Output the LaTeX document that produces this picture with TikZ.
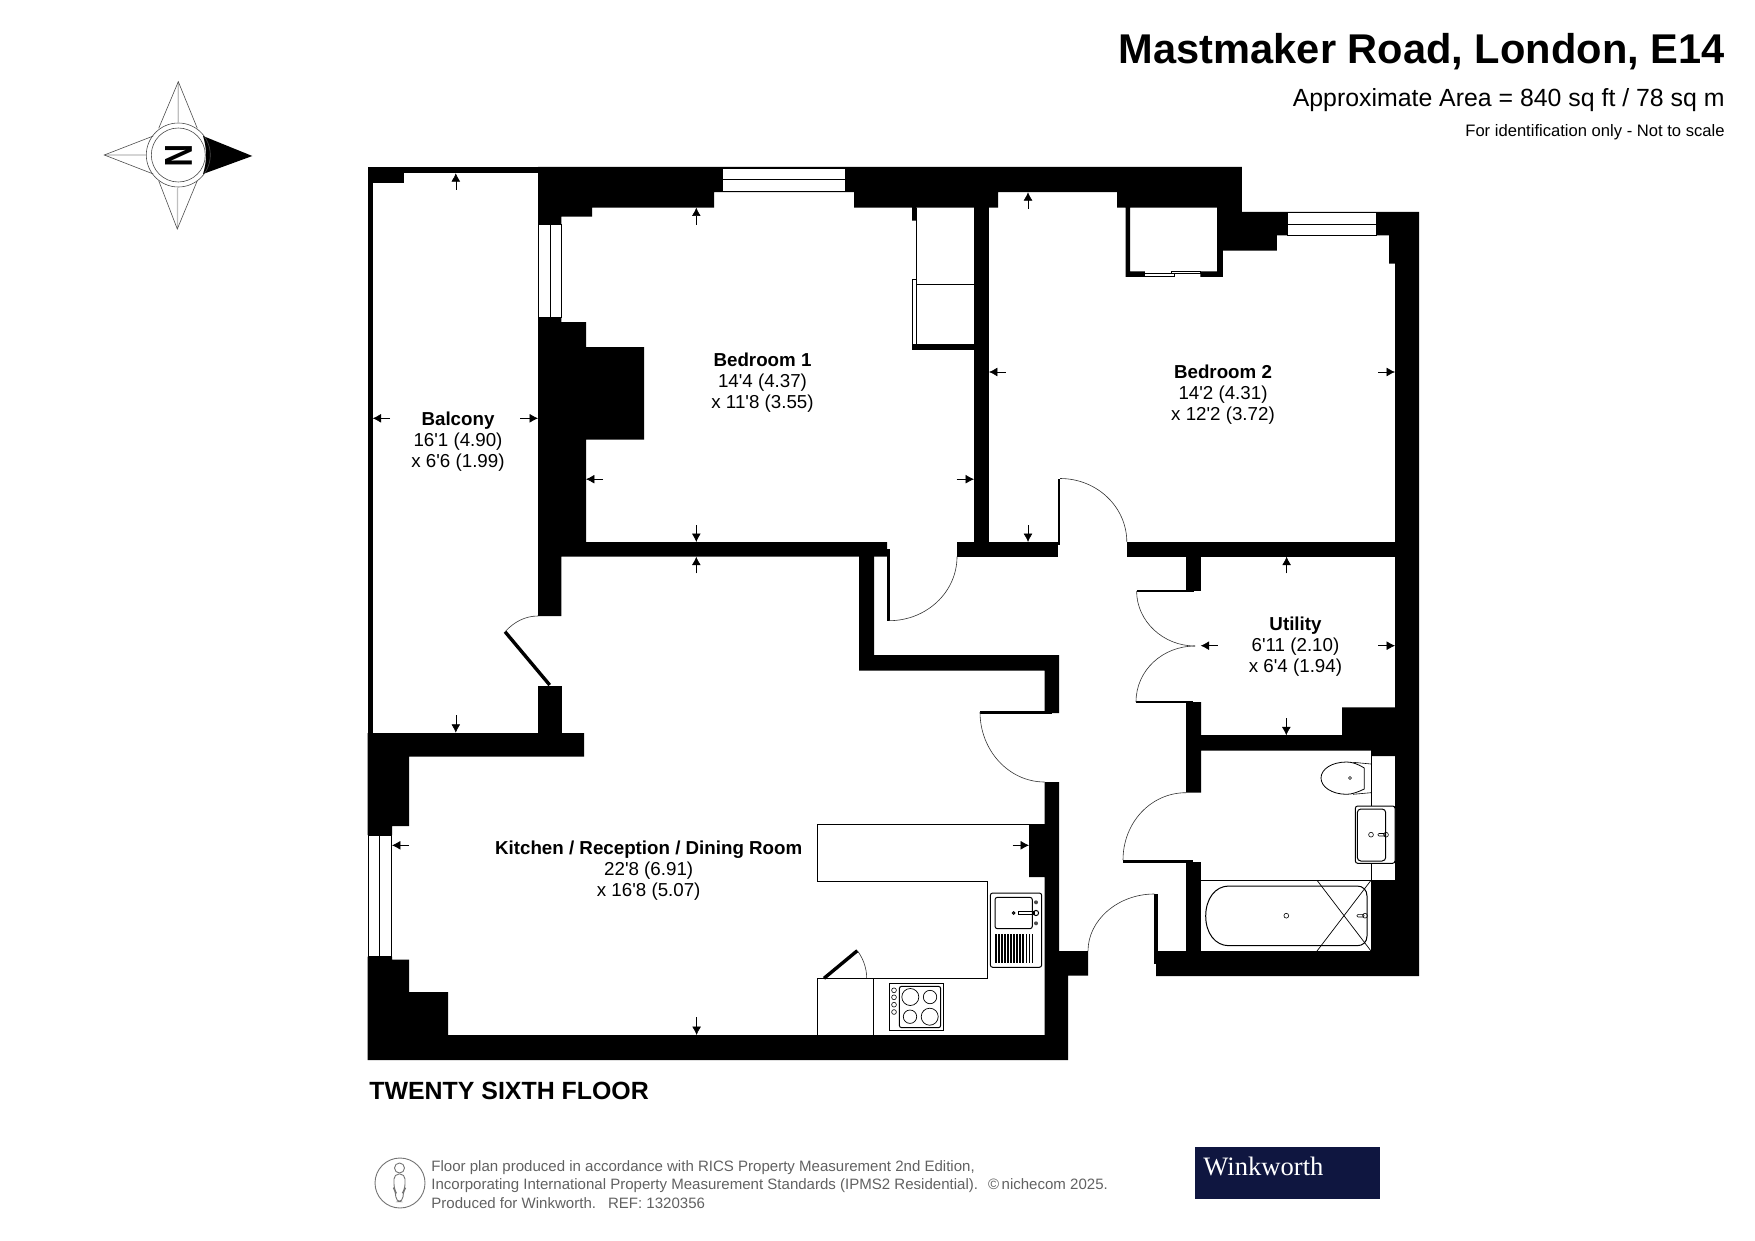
\documentclass[tikz,border=0pt]{standalone}
\usepackage{fontspec}
\setmainfont{Liberation Sans}
\newfontfamily\logofont{Liberation Serif}
\usetikzlibrary{arrows.meta}
\newcommand{\ft}{\textquotesingle}
\definecolor{logoblue}{HTML}{0F1640}
\tikzset{
  wall/.style={fill=black, draw=none},
  glass/.style={fill=white, draw=black, line width=0.35pt},
  fitting/.style={draw=black, line width=0.5pt},
  swing/.style={draw=black!80, line width=0.3pt},
  dimarrow/.style={draw=black, line width=0.3pt, -{Latex[length=4.2pt,width=4.4pt]}},
  roomlabel/.style={align=center, inner sep=0pt, font=\fontsize{9.37}{10.4}\selectfont},
  smalltext/.style={align=left, inner sep=0pt, text=black!62, font=\fontsize{7.52}{9.1}\selectfont}
}
\begin{document}
\begin{tikzpicture}[x=0.5pt,y=-0.5pt]
\useasboundingbox (0,0) rectangle (1755,1241);

% headings
\node (title) [anchor=east, inner sep=0pt, font=\fontsize{20.8}{24}\selectfont\bfseries] at (1725,52) {Mastmaker Road, London, E14};
\node (area) [anchor=east, inner sep=0pt, font=\fontsize{12.43}{14}\selectfont] at (1725,100) {Approximate Area = 840 sq ft / 78 sq m};
\node (scalenote) [anchor=east, inner sep=0pt, font=\fontsize{8.3}{10}\selectfont] at (1725,132) {For identification only - Not to scale};

% compass
\draw[black!25, line width=0.6pt] (178.3,81.7) -- (178.3,122) (104.3,155) -- (146,155) (177.6,188) -- (177.4,229);
\draw[black!70, line width=0.3pt] (158.7,128.3) -- (178.3,81.7) -- (197.3,128.3);
\draw[black!70, line width=0.3pt] (153.3,136) -- (104.3,155) -- (153.3,174);
\draw[black!70, line width=0.3pt] (158.7,180.7) -- (177.3,229) -- (197.3,180.7);
\fill[black] (203,136) -- (252.3,156) -- (203,174) .. controls (207,162) and (207,148) .. (203,136) -- cycle;
\draw[black!70, line width=0.3pt] (178.3,155) circle (32);
\draw[black!70, line width=0.3pt] (178.3,155) circle (27);
\node (north) [rotate=-90, xscale=0.8, inner sep=0pt, font=\fontsize{19.5}{20}\selectfont\bfseries] at (178.5,156) {N};

% walls
\fill[wall] (538,166.9) -- (1241.9,166.9) -- (1241.9,212) -- (1419,212) -- (1419,976) -- (1156,976) -- (1156,951) -- (1371,951) -- (1371,880) -- (1395,880) -- (1395,263.7) -- (1389,263.7) -- (1389,235.3) -- (1276.8,235.3) -- (1276.8,250.7) -- (1222.8,250.7) -- (1222.8,276.8) -- (1200.4,276.8) -- (1200.4,271.3) -- (1217,271.3) -- (1217,207.6) -- (1130,207.6) -- (1130,271.3) -- (1144.8,271.3) -- (1144.8,276.8) -- (1125.7,276.8) -- (1125.7,207.6) -- (1117,207.6) -- (1117,192.2) -- (998,192.2) -- (998,207.6) -- (916.4,207.6) -- (916.4,220.6) -- (912,220.6) -- (912,207.6) -- (854,207.6) -- (854,192.2) -- (714,192.2) -- (714,207.6) -- (592,207.6) -- (592,216.7) -- (561.4,216.7) -- (561.4,224.6) -- (538,224.6) -- cycle;
\fill[wall] (538,317) -- (561.4,317) -- (561.4,322) -- (586,322) -- (586,347) -- (644,347) -- (644,439.7) -- (586,439.7) -- (586,542) -- (887,542) -- (887,556.7) -- (561.4,556.7) -- (561.4,616) -- (538,616) -- cycle;
\fill[wall] (859,556) -- (874,556) -- (874,655) -- (1059,655) -- (1059,713) -- (1044.6,713) -- (1044.6,670.7) -- (859,670.7) -- cycle;
\fill[wall] (1044.6,782) -- (1059,782) -- (1059,951) -- (1088,951) -- (1088,975.7) -- (1068,975.7) -- (1068,1060) -- (367.7,1060) -- (367.7,956.7) -- (392,956.7) -- (392,959.7) -- (409,959.7) -- (409,992) -- (448,992) -- (448,1035) -- (1044.6,1035) -- (1044.6,877) -- (1029,877) -- (1029,824) -- (1044.6,824) -- cycle;
\fill[wall] (367.7,733) -- (584,733) -- (584,756.7) -- (409,756.7) -- (409,826) -- (392,826) -- (392,835) -- (367.7,835) -- cycle;
\fill[wall] (367.7,166.9) rectangle (372.7,733);
\fill[wall] (367.7,166.9) rectangle (538,172.7);
\fill[wall] (367.7,166.9) rectangle (404,182.7);
\fill[wall] (538,686) rectangle (562,733);
\fill[wall] (974,207) rectangle (989,556.7);
\fill[wall] (957,542) rectangle (1058,556.7);
\fill[wall] (1126.8,542) rectangle (1395,556.7);
\fill[wall] (912,344) rectangle (974,349.5);
\fill[wall] (1186,556) rectangle (1201,591);
\fill[wall] (1186,702) -- (1201,702) -- (1201,735) -- (1342,735) -- (1342,707.3) -- (1395,707.3) -- (1395,756) -- (1371,756) -- (1371,750.7) -- (1201,750.7) -- (1201,792.7) -- (1186,792.7) -- cycle;
\fill[wall] (1186,861.7) rectangle (1201,951);

% door leaves
\fill[wall] (887,549) rectangle (889.5,620.7);
\fill[wall] (1057.5,478.5) rectangle (1060,545);
\fill[wall] (980,711) rectangle (1052,713.7);
\fill[wall] (1136.6,589.5) rectangle (1194,592);
\fill[wall] (1136,700.5) rectangle (1193,703.3);
\fill[wall] (1123,859.5) rectangle (1193,862.5);
\fill[wall] (1154.3,894) rectangle (1157.7,964);
\draw[black, line width=1.7pt] (505,631.7) -- (549.7,685);
\draw[black, line width=1.7pt] (824,978.3) -- (857.3,950.7);

% door swings
\draw[swing] (505,631.7) .. controls (514,622) and (525,616) .. (538,616);
\draw[swing] (889,620.7) .. controls (926.6,620.7) and (957,592) .. (957,556.7);
\draw[swing] (1060,478.5) .. controls (1097,478.5) and (1126.8,507) .. (1126.8,542);
\draw[swing] (1136.6,591) .. controls (1136.6,621) and (1163,646) .. (1195,646);
\draw[swing] (1136,702) .. controls (1136,670) and (1163,646) .. (1195,646);
\draw[swing] (1123,860) .. controls (1123,822.4) and (1151,792.7) .. (1186,792.7);
\draw[swing] (1154.3,894) .. controls (1118,894) and (1088,920) .. (1088,951);
\draw[swing] (980,712) .. controls (980,750.6) and (1009,782) .. (1044.6,782);
\draw[swing] (857.3,950.7) .. controls (863,958) and (866.7,968) .. (866.7,978.3);

% windows
\draw[glass] (722.7,168) rectangle (845,191.4);
\draw[black, line width=0.35pt] (722.7,179.5) -- (845,179.5);
\draw[glass] (1287,212.7) rectangle (1376,235.3);
\draw[black, line width=0.35pt] (1287,224.2) -- (1376,224.2);
\draw[glass] (538,224.6) rectangle (561.4,317);
\draw[black, line width=0.35pt] (550,224.6) -- (550,317);
\draw[glass] (367.9,835) rectangle (391.5,956.7);
\draw[black, line width=0.35pt] (379,835) -- (379,956.7);

% wardrobes
\draw[fitting, line width=0.35pt] (916,207.6) -- (916,284) -- (974,284);
\draw[fitting, line width=0.35pt] (912,279) rectangle (916,344);
\draw[fitting, line width=0.35pt] (1144.8,273.6) rectangle (1174,276.4);
\draw[fitting, line width=0.35pt] (1171,271.3) rectangle (1200.4,273.6);

% kitchen
\draw[fitting] (1029,824.3) -- (817.3,824.3) -- (817.3,881.3) -- (987.3,881.3) -- (987.3,978.3) -- (817.3,978.3) -- (817.3,1035);
\draw[fitting] (873.3,978.3) -- (873.3,1035);
\draw[fitting, rounded corners=1.2pt] (990.3,893) rectangle (1041.7,967.3);
\draw[fitting, rounded corners=1.2pt] (995,897.3) rectangle (1032.3,928.7);
\draw[fitting] (1018.3,911.8) rectangle (1034,914.2);
\draw[fitting] (1036,913) circle (2.6);
\draw[fitting] (1013.7,913) circle (1.3);
\fill[black!70] (1036,902.3) circle (2);
\fill[black!70] (1036,923.3) circle (2);
\foreach \slat in {996,999,...,1023}
  \draw[black, line width=0.6pt] (\slat,934.3) -- (\slat,962.7);
\foreach \slat in {1026,1029,1032}
  \draw[black, line width=0.3pt] (\slat,934.3) -- (\slat,962.7);
\draw[fitting] (889.3,983.3) rectangle (943.7,1030.3);
\draw[fitting, rounded corners=1.2pt] (899.3,986.3) rectangle (940.7,1027.7);
\draw[fitting, line width=0.35pt] (910.3,997) circle (8.5);
\draw[fitting, line width=0.35pt] (930,997) circle (6.7);
\draw[fitting, line width=0.35pt] (910,1016.7) circle (6.7);
\draw[fitting, line width=0.35pt] (929.7,1016.7) circle (8.5);
\foreach \knob in {990.3,997.3,1004.7,1012}
  \draw[fitting, line width=0.3pt] (894,\knob) circle (2.4);

% bathroom
\draw[fitting, line width=0.4pt] (1371,750.7) -- (1371,806);
\draw[fitting, line width=0.4pt] (1371,863.3) -- (1371,880.3);
\draw[fitting, line width=0.4pt] (1364.3,768) .. controls (1358,764) and (1352,762) .. (1346.7,762) .. controls (1332,762) and (1321,769) .. (1321,778) .. controls (1321,787) and (1332,794.3) .. (1346.7,794.3) .. controls (1352,794.3) and (1358,792) .. (1364.3,789) -- cycle;
\draw[fitting, line width=0.3pt] (1353,762.3) -- (1371,764) (1353,794.3) -- (1371,792.7);
\draw[fitting, line width=0.3pt] (1350,778) circle (1.5);
\draw[fitting, rounded corners=1.2pt, fill=white] (1355.3,806) rectangle (1395,863.3);
\draw[fitting, rounded corners=1.8pt] (1357.3,809) rectangle (1385.7,861);
\draw[fitting, line width=0.3pt] (1371,834.7) circle (2.4);
\draw[fitting, line width=0.3pt] (1386,834.7) circle (2.4);
\draw[fitting, line width=0.3pt, rounded corners=0.5pt] (1378,833.5) rectangle (1385,836);
\draw[fitting] (1201,880.3) -- (1371,880.3);
\draw[fitting] (1229,886) -- (1357,886) .. controls (1363,886) and (1367,890) .. (1367,896) -- (1367,936) .. controls (1367,942) and (1363,945.7) .. (1357,945.7) -- (1229,945.7) .. controls (1215,945.7) and (1205.7,933) .. (1205.7,916) .. controls (1205.7,899) and (1215,886) .. (1229,886) -- cycle;
\draw[fitting, line width=0.3pt] (1286.3,915.7) circle (2.4);
\draw[fitting, line width=0.3pt] (1365,915.7) circle (2.4);
\draw[fitting, line width=0.3pt, rounded corners=0.5pt] (1357,914.4) rectangle (1364,917);
\draw[fitting, line width=0.35pt] (1317,880.3) -- (1371,951) (1317,951) -- (1371,880.3);

% measure arrows
\draw[dimarrow] (455.8,190) -- (455.8,173.2);
\draw[dimarrow] (390,418.3) -- (372.7,418.3);
\draw[dimarrow] (520,418.3) -- (538,418.3);
\draw[dimarrow] (455.8,715) -- (455.8,732.7);
\draw[dimarrow] (696.3,224.6) -- (696.3,207.6);
\draw[dimarrow] (603,479.2) -- (586,479.2);
\draw[dimarrow] (696.3,525) -- (696.3,542);
\draw[dimarrow] (696.3,573.4) -- (696.3,556.7);
\draw[dimarrow] (956.7,479.2) -- (974,479.2);
\draw[dimarrow] (1028,208.8) -- (1028,192.2);
\draw[dimarrow] (1005.8,372) -- (989,372);
\draw[dimarrow] (1378,372) -- (1395,372);
\draw[dimarrow] (1028,525) -- (1028,542);
\draw[dimarrow] (1286.6,573.4) -- (1286.6,556.7);
\draw[dimarrow] (1286.3,718.3) -- (1286.3,735.3);
\draw[dimarrow] (1217.5,645.7) -- (1200.7,645.7);
\draw[dimarrow] (1378,645.7) -- (1395,645.7);
\draw[dimarrow] (409,845.3) -- (392,845.3);
\draw[dimarrow] (1012.5,845.3) -- (1029,845.3);
\draw[dimarrow] (696.6,1017.3) -- (696.6,1035);

% room labels
\node (balcony) [roomlabel] at (458,441.5) {\textbf{Balcony}\\16\ft1 (4.90)\\x 6\ft6 (1.99)};
\node (bedone) [roomlabel] at (762.5,382.5) {\textbf{Bedroom 1}\\14\ft4 (4.37)\\x 11\ft8 (3.55)};
\node (bedtwo) [roomlabel] at (1223,394.5) {\textbf{Bedroom 2}\\14\ft2 (4.31)\\x 12\ft2 (3.72)};
\node (utility) [roomlabel] at (1295.5,646.5) {\textbf{Utility}\hspace{2.5pt}\\6\ft11 (2.10)\\x 6\ft4 (1.94)};
\node (kitchen) [roomlabel] at (648.7,870.5) {\textbf{Kitchen / Reception / Dining Room}\\22\ft8 (6.91)\\x 16\ft8 (5.07)};

% floor name and footer
\node (floorname) [anchor=west, inner sep=0pt, font=\fontsize{12.45}{14}\selectfont\bfseries] at (369,1091) {TWENTY SIXTH FLOOR};
\draw[black!55, line width=0.45pt] (400,1183) circle (25);
\draw[black!55, line width=0.45pt] (399.5,1168) circle (5);
\draw[black!55, line width=0.45pt, rounded corners=2.5pt] (395.8,1201.7) -- (395.8,1192) -- (394,1189) -- (394,1174) -- (405,1174) -- (405,1189) -- (403,1192) -- (403,1201.7) -- cycle;
\node (footer) [smalltext, anchor=west] at (431,1184.5) {Floor plan produced in accordance with RICS Property Measurement 2nd Edition,\\Incorporating International Property Measurement Standards (IPMS2 Residential).\hspace{5pt}\copyright\,nichecom 2025.\\Produced for Winkworth.\hspace{6pt}REF: 1320356};
\fill[logoblue] (1195.3,1147) rectangle (1380,1199);
\node (logo) [anchor=west, inner sep=0pt, text=white, font=\logofont\fontsize{13.3}{15}\selectfont] at (1203,1166) {Winkworth};
\end{tikzpicture}
\end{document}
